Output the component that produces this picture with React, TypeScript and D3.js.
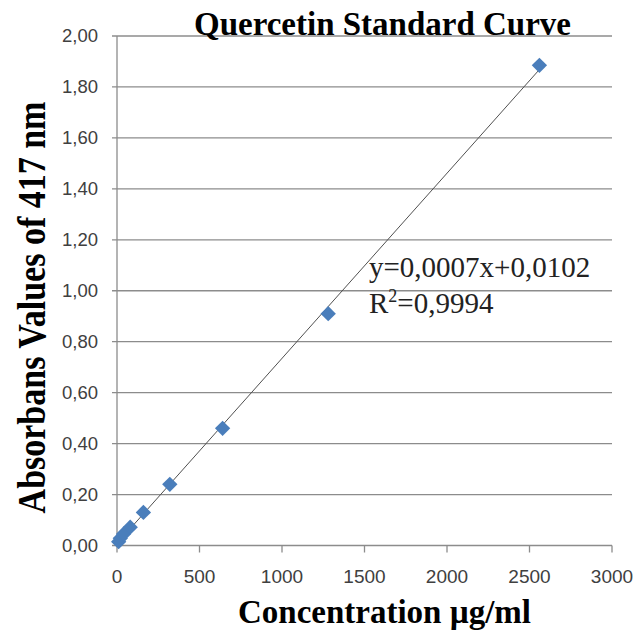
import React from "react";
import * as d3 from "d3";

const concentrations = [10, 20, 40, 80, 160, 320, 640, 1280, 2560];
const absorbances = [0.015, 0.028, 0.045, 0.072, 0.13, 0.24, 0.46, 0.91, 1.885];
const xTicks = [0, 500, 1000, 1500, 2000, 2500, 3000];
const yTicks = [0, 0.2, 0.4, 0.6, 0.8, 1.0, 1.2, 1.4, 1.6, 1.8, 2.0];
const titleText = "Quercetin Standard Curve";
const xTitle = "Concentration µg/ml";
const yTitle = "Absorbans Values of 417 nm";
const equationText = "y=0,0007x+0,0102";
const r2Value = "=0,9994";

const W = 635;
const H = 637;
const L = 117;
const R = 612;
const T = 36;
const B = 545.5;

export default function App() {
  const x = d3.scaleLinear().domain([0, 3000]).range([L, R]);
  const y = d3.scaleLinear().domain([0, 2]).range([B, T]);

  const xm = d3.mean(concentrations) as number;
  const ym = d3.mean(absorbances) as number;
  let sxy = 0;
  let sxx = 0;
  concentrations.forEach((c, i) => {
    sxy += (c - xm) * (absorbances[i] - ym);
    sxx += (c - xm) * (c - xm);
  });
  const slope = sxy / sxx;
  const intercept = ym - slope * xm;
  const xMax = d3.max(concentrations) as number;
  const line = d3.line<number>().x((d) => x(d)).y((d) => y(slope * d + intercept));

  const fmt = (v: number) => v.toFixed(2).replace(".", ",");
  const diamond = d3.symbol().type(d3.symbolDiamond2).size(150)();
  const grid = "#8c8c8c";
  const sans = "'Liberation Sans', Arial, sans-serif";
  const serif = "'Liberation Serif', 'Times New Roman', serif";

  return (
    <svg width={W} height={H} style={{ position: "absolute", left: 0, top: 0, background: "#fff" }}>
      <rect width={W} height={H} fill="#fff" />
      {yTicks.map((t) => (
        <line key={"g" + t} x1={L - 5} x2={R} y1={y(t)} y2={y(t)} stroke={grid} strokeWidth={1.3} />
      ))}
      <line x1={L} x2={L} y1={T} y2={B} stroke={grid} strokeWidth={1.3} />
      {xTicks.map((t) => (
        <line key={"xt" + t} x1={x(t)} x2={x(t)} y1={B} y2={B + 7} stroke={grid} strokeWidth={1.3} />
      ))}
      {yTicks.map((t) => (
        <text key={"yl" + t} x={98} y={y(t)} dy="0.35em" textAnchor="end" fontFamily={sans} fontSize={18.5} fill="#404040">
          {fmt(t)}
        </text>
      ))}
      {xTicks.map((t) => (
        <text key={"xl" + t} x={x(t)} y={583} textAnchor="middle" fontFamily={sans} fontSize={19} fill="#404040">
          {t}
        </text>
      ))}
      <path d={line([0, xMax]) as string} stroke="#505050" strokeWidth={1} fill="none" />
      {concentrations.map((c, i) => (
        <path key={"p" + c} d={diamond as string} transform={`translate(${x(c)},${y(absorbances[i])})`} fill="#4a7ebb" />
      ))}
      <text x={382.5} y={35} textAnchor="middle" fontFamily={serif} fontWeight="bold" fontSize={33} fill="#000">
        {titleText}
      </text>
      <text x={384.5} y={622.5} textAnchor="middle" fontFamily={serif} fontWeight="bold" fontSize={33} fill="#000">
        {xTitle}
      </text>
      <text transform={`translate(45,307.5) rotate(-90) scale(1,1.2)`} textAnchor="middle" fontFamily={serif} fontWeight="bold" fontSize={34} fill="#000">
        {yTitle}
      </text>
      <text x={369} y={277} fontFamily={serif} fontSize={29} fill="#222">
        {equationText}
      </text>
      <text x={369} y={312.5} fontFamily={serif} fontSize={29} fill="#222">
        R<tspan dy={-11} fontSize={18}>2</tspan>
        <tspan dy={11}>{r2Value}</tspan>
      </text>
    </svg>
  );
}
